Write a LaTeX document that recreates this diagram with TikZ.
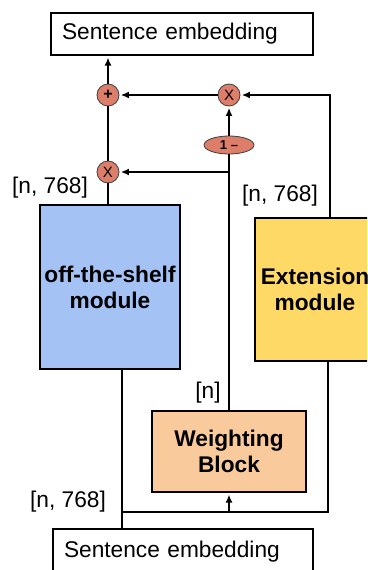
\documentclass[tikz,border=0pt]{standalone}
\usepackage{fontspec}
\setmainfont{Liberation Sans}
\usetikzlibrary{arrows.meta, positioning, shapes.geometric}
\definecolor{shelfblue}{HTML}{A4C2F4}
\definecolor{extyellow}{HTML}{FFD966}
\definecolor{weightorange}{HTML}{F9CB9C}
\definecolor{opred}{HTML}{DD7E6B}

\begin{document}
\begin{tikzpicture}[x=1pt,y=-1pt]

\tikzset{box/.style = {draw, line width=2.2pt, font=\fontsize{22.7}{26}\selectfont}}
\tikzset{block/.style = {box, font=\fontsize{22.7}{26}\selectfont\bfseries, align=center, inner xsep=2pt}}
\tikzset{op/.style = {shape=circle, draw=black!75, line width=0.8pt, fill=opred, minimum size=22pt, inner sep=0pt, font=\fontsize{15}{15}\selectfont}}
\tikzset{dim/.style = {font=\fontsize{22.7}{26}\selectfont, inner sep=0pt}}
\tikzset{wire/.style = {line width=1.4pt}}
\tikzset{arr/.style = {wire, -{Latex[length=8pt,width=7pt]}, shorten >=1.5pt}}
\clip (0,0) rectangle (367,570);
% boxes
\node[box, text width=240pt, inner xsep=11pt, minimum height=42pt, align=left] (out) at (182,34) {Sentence embedding};
\node[box, text width=238pt, inner xsep=11pt, minimum height=46pt, align=left] (in) at (183,552) {Sentence embedding};
\node[block, fill=shelfblue, minimum width=140pt, minimum height=164pt] (shelf) at (110,287) {off-the-shelf\\module};
\node[block, fill=extyellow, minimum width=120pt, minimum height=143pt] (ext) at (315,289.5) {Extension\\module};
\node[block, fill=weightorange, minimum width=154pt, minimum height=81pt] (weight) at (229,451.5) {Weighting\\Block};
% operators
\node[op, font=\fontsize{16}{16}\selectfont\bfseries] (add) at (108,95) {+};
\node[op] (mulb) at (229,95) {X};
\node[op] (mula) at (108,172) {X};
\node[shape=ellipse, draw=black!75, line width=0.8pt, fill=opred, minimum width=50pt, minimum height=18pt, inner sep=0pt, font=\fontsize{13}{13}\selectfont\bfseries] (inv) at (229,145) {1 --};
% shapes of the tensors
\node[dim] (dshelf) at (50,188) {[n, 768]};
\node[dim] (dext) at (280,196) {[n, 768]};
\node[dim] (din) at (68,502) {[n, 768]};
\node[dim] (dweight) at (208,393) {[n]};
\coordinate (tap) at (122,512);
%edges
\draw[wire] (tap |- in.north) -- (tap |- shelf.south);
\draw[wire] (tap) -| ([xshift=13pt]ext.south);
\draw[arr] (tap -| weight) -- (weight);
\draw[wire] (weight) -- (inv);
\draw[arr] (weight.north |- mula) -- (mula);
\draw[arr] (inv) -- (mulb);
\draw[arr] ([xshift=15pt]ext.north) |- (mulb);
\draw[arr] (mulb) -- (add);
\draw[wire] (mula |- shelf.north) -- (mula);
\draw[wire] (mula) -- (add);
\draw[arr] (add) -- (add |- out.south);
\end{tikzpicture}
\end{document}
